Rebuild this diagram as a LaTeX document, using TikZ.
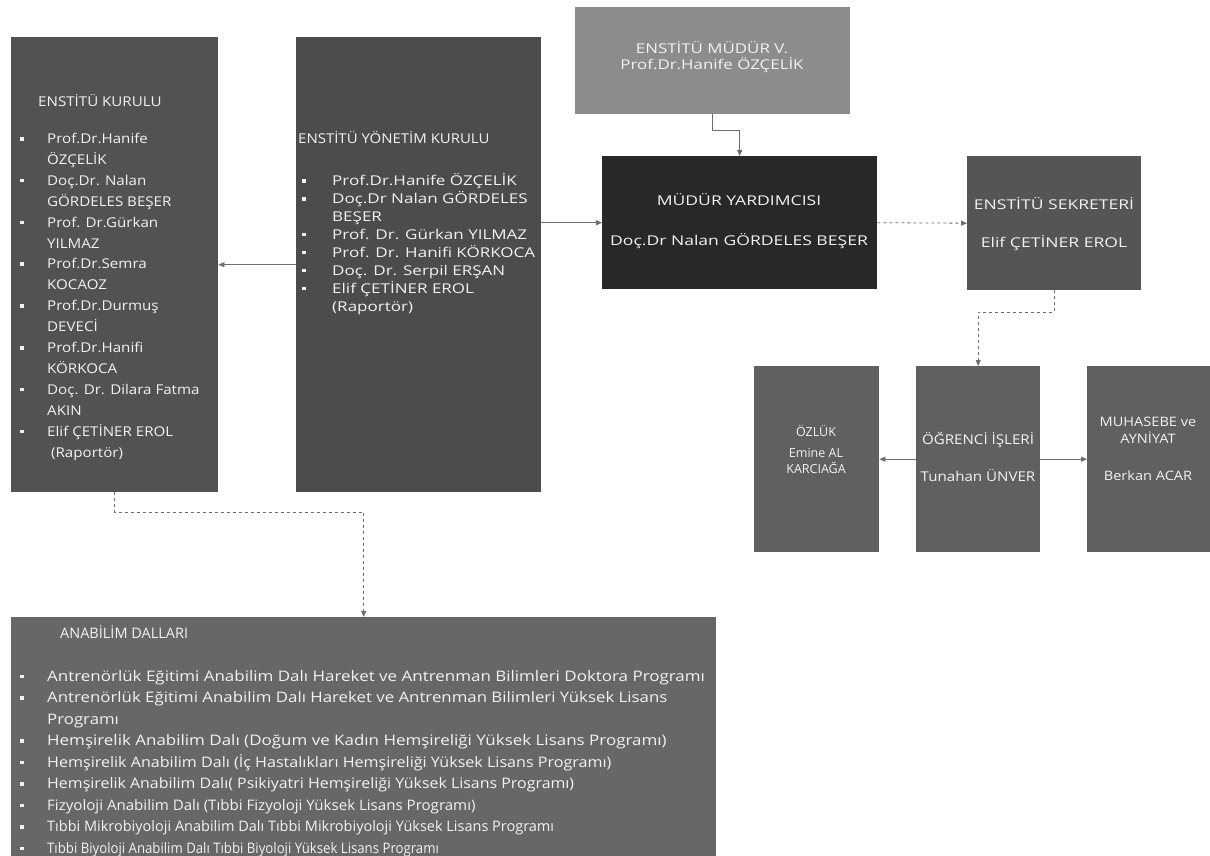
\documentclass[tikz,border=0pt]{standalone}
\usepackage{fontspec}
\usepackage{graphicx}
\setmainfont{Open Sans}
\newfontfamily\fa[FakeStretch=1.12]{Open Sans}
\newfontfamily\fb[FakeStretch=1.30]{Open Sans}
\newfontfamily\fc[FakeStretch=1.25]{Open Sans}
\newfontfamily\fe[FakeStretch=1.26]{Open Sans}
\usetikzlibrary{arrows.meta,calc}
\newcommand\bul{\makebox[27pt][l]{\raisebox{3pt}{\rule{3.5pt}{3.5pt}}}}
\newcommand\bulb{\makebox[30pt][l]{\raisebox{3pt}{\rule{3.5pt}{3.5pt}}}}
\newcommand\ind{\hspace*{27pt}}
\newcommand\indb{\hspace*{30pt}}
\newcommand\sx[2]{\scalebox{#1}[1]{#2}}
\definecolor{kurc}{HTML}{525252}
\definecolor{yonc}{HTML}{4C4C4C}
\definecolor{mvc}{HTML}{8C8C8C}
\definecolor{mydc}{HTML}{282828}
\definecolor{sekc}{HTML}{555555}
\definecolor{rowc}{HTML}{606060}
\definecolor{anac}{HTML}{676767}
\definecolor{linec}{HTML}{6E6E6E}
\definecolor{txtc}{HTML}{F2F2F2}
\tikzset{
 box/.style={draw=none, anchor=north west, inner sep=0pt},
 txt/.style={text=txtc, inner sep=0pt, font=\fontsize{13.5}{16.7}\selectfont},
 lst/.style={txt, align=left, anchor=base west},
 ctr/.style={txt, align=center},
 conn/.style={draw=linec, line width=0.8pt, -{Triangle[length=6pt,width=5pt]}},
 dconn/.style={conn, dashed},
}
\begin{document}
\begin{tikzpicture}[x=1pt,y=-1pt]
\useasboundingbox[fill=white] (0,0) rectangle (1210,856);
% boxes
\node[box, fill=kurc, minimum width=207pt, minimum height=455pt] (kur) at (11,37) {};
\node[box, fill=yonc, minimum width=245pt, minimum height=455pt] (yon) at (296,37) {};
\node[box, fill=mvc, minimum width=275pt, minimum height=107pt] (mv) at (575,7) {};
\node[box, fill=mydc, minimum width=275pt, minimum height=133pt] (myd) at (602,156) {};
\node[box, fill=sekc, minimum width=174pt, minimum height=134pt] (sek) at (967,156) {};
\node[box, fill=rowc, minimum width=125pt, minimum height=186pt] (oz) at (754,366) {};
\node[box, fill=rowc, minimum width=124pt, minimum height=186pt] (ogr) at (916,366) {};
\node[box, fill=rowc, minimum width=123pt, minimum height=186pt] (muh) at (1087,366) {};
\node[box, fill=anac, minimum width=705pt, minimum height=239pt] (ana) at (11,617) {};
% texts
\node[lst, font=\fontsize{13.5}{20.9}\fa] (kurt) at (20,457) {\hspace*{18pt}ENSTİTÜ KURULU\\[16pt]
\bul Prof.Dr.Hanife\\
\ind ÖZÇELİK\\
\bul Doç.Dr. Nalan\\
\ind GÖRDELES BEŞER\\
\bul Prof. Dr.Gürkan\\
\ind YILMAZ\\
\bul Prof.Dr.Semra\\
\ind KOCAOZ\\
\bul Prof.Dr.Durmuş\\
\ind DEVECİ\\
\bul Prof.Dr.Hanifi\\
\ind KÖRKOCA\\
\bul Doç. Dr. Dilara Fatma\\
\ind AKIN\\
\bul Elif ÇETİNER EROL\\
\ind\ (Raportör)};
\node[lst, font=\fontsize{13.5}{17.9}\fe] (yont) at (298,311) {\sx{0.88}{ENSTİTÜ YÖNETİM KURULU}\\[24.1pt]
\hspace*{4pt}\bulb Prof.Dr.Hanife ÖZÇELİK\\
\hspace*{4pt}\bulb Doç.Dr Nalan GÖRDELES\\
\hspace*{4pt}\indb BEŞER\\
\hspace*{4pt}\bulb Prof. Dr. Gürkan YILMAZ\\
\hspace*{4pt}\bulb Prof. Dr. Hanifi KÖRKOCA\\
\hspace*{4pt}\bulb Doç. Dr. Serpil ERŞAN\\
\hspace*{4pt}\bulb Elif ÇETİNER EROL\\
\hspace*{4pt}\indb (Raportör)};
\node[ctr, font=\fontsize{13.5}{16.7}\fc] (mvt) at (712,57) {ENSTİTÜ MÜDÜR V.\\Prof.Dr.Hanife ÖZÇELİK};
\node[ctr, font=\fontsize{13.5}{16.7}\fb] (mydt) at (739,221) {MÜDÜR YARDIMCISI\\[23pt]Doç.Dr Nalan GÖRDELES BEŞER};
\node[ctr, font=\fontsize{13.5}{16.7}\fb] (sekt) at (1054,224) {ENSTİTÜ SEKRETERİ\\[22pt]Elif ÇETİNER EROL};
\node[ctr, font=\fontsize{12.5}{16}\selectfont] (ozt) at (816,449) {ÖZLÜK\\[5pt]Emine AL\\KARCIAĞA};
\node[ctr, font=\fontsize{13.5}{16.7}\fa] (ogrt) at (978,457) {ÖĞRENCİ İŞLERİ\\[21pt]Tunahan ÜNVER};
\node[ctr, font=\fontsize{13}{16.7}\fa] (muht) at (1148,449) {MUHASEBE ve\\AYNİYAT\\[21pt]Berkan ACAR};
\node[lst, font=\fontsize{14.5}{21.5}\selectfont] (anat) at (20,853) {\hspace*{40pt}ANABİLİM DALLARI\\[21.5pt]
\bul \sx{1.17}{Antrenörlük Eğitimi Anabilim Dalı Hareket ve Antrenman Bilimleri Doktora Programı}\\
\bul \sx{1.16}{Antrenörlük Eğitimi Anabilim Dalı Hareket ve Antrenman Bilimleri Yüksek Lisans}\\
\ind \sx{1.16}{Programı}\\
\bul \sx{1.17}{Hemşirelik Anabilim Dalı (Doğum ve Kadın Hemşireliği Yüksek Lisans Programı)}\\
\bul \sx{1.11}{Hemşirelik Anabilim Dalı (İç Hastalıkları Hemşireliği Yüksek Lisans Programı)}\\
\bul \sx{1.10}{Hemşirelik Anabilim Dalı( Psikiyatri Hemşireliği Yüksek Lisans Programı)}\\
\bul \sx{1.04}{Fizyoloji Anabilim Dalı (Tıbbi Fizyoloji Yüksek Lisans Programı)}\\
\bul \sx{1.00}{Tıbbi Mikrobiyoloji Anabilim Dalı Tıbbi Mikrobiyoloji Yüksek Lisans Programı}\\
\bul \sx{0.91}{Tıbbi Biyoloji Anabilim Dalı Tıbbi Biyoloji Yüksek Lisans Programı}};
% connectors
\draw[conn] (yon.west) -- (kur.east);
\draw[conn] (yon.east |- myd.west) -- (myd.west);
\draw[conn] (mv.south) -- ++(0,16) -| (myd.north);
\draw[dconn] (myd.east) -- (sek.west);
\draw[dconn] (sek.south) -- ++(0,22) -| (ogr.north);
\draw[conn] (ogr.west) -- (oz.east);
\draw[conn] (ogr.east) -- (muh.west);
\draw[dconn] (kur.south) -- ++(0,20) -| (ana.north);
\end{tikzpicture}
\end{document}
